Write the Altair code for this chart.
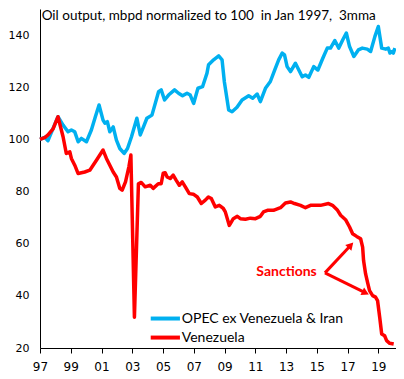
import altair as alt
import pandas as pd

# ---- data ----
opec_year = [1997.00, 1997.31, 1997.52, 1997.85, 1998.17, 1998.50, 1998.82, 1999.04, 1999.26, 1999.48,
             1999.69, 2000.02, 2000.34, 2000.60, 2000.84, 2001.10, 2001.22, 2001.38, 2001.54, 2001.76,
             2001.97, 2002.19, 2002.47, 2002.69, 2002.95, 2003.30, 2003.52, 2003.73, 2003.95, 2004.28,
             2004.71, 2004.88, 2005.10, 2005.36, 2005.75, 2006.01, 2006.27, 2006.56, 2006.77, 2006.99,
             2007.27, 2007.57, 2007.86, 2007.96, 2008.29, 2008.62, 2008.84, 2008.99, 2009.27, 2009.49,
             2009.81, 2010.14, 2010.57, 2010.83, 2011.12, 2011.33, 2011.66, 2011.98, 2012.26, 2012.52,
             2012.75, 2012.90, 2013.07, 2013.29, 2013.61, 2013.83, 2014.05, 2014.26, 2014.48, 2014.80,
             2015.07, 2015.39, 2015.68, 2015.89, 2016.17, 2016.43, 2016.69, 2016.92, 2017.13, 2017.41,
             2017.70, 2017.96, 2018.28, 2018.50, 2018.78, 2019.00, 2019.22, 2019.48, 2019.65, 2019.76,
             2019.91, 2019.98, 2020.08]
opec_val = [100, 100.8, 99.5, 104.2, 108.7, 105.5, 102.9, 103.6, 102.9, 99.1,
            100.4, 99.1, 103.6, 108.7, 113.2, 107.4, 106.2, 106.8, 102.9, 104.8,
            99.7, 96.5, 94.6, 96.5, 101, 108.1, 101.7, 104.8, 108.1, 109.3,
            118.3, 119, 115.1, 117, 119, 117.7, 116.7, 117.7, 117, 113.8,
            119.6, 120.2, 125.4, 128.6, 130.5, 132, 130.5, 122, 111.3, 110.6,
            112.3, 115.1, 116.7, 115.8, 117.4, 114.5, 119.6, 122.2, 126.6, 130.5,
            133.1, 132.4, 127.9, 126, 129.2, 126.6, 124, 124.7, 123.8, 127.9,
            126.6, 131.1, 135, 135, 137.9, 135, 138.2, 140.8, 135.6, 131.8,
            134.3, 135, 134.6, 133.7, 139.5, 143.3, 135, 134.6, 135, 133.1,
            133.7, 133.1, 135]

ven_year = [1997.00, 1997.33, 1997.52, 1997.85, 1998.17, 1998.50, 1998.71, 1998.94, 1999.04, 1999.26,
            1999.48, 1999.91, 2000.24, 2000.67, 2001.10, 2001.32, 2001.54, 2001.76, 2001.97, 2002.19,
            2002.34, 2002.56, 2002.78, 2002.91, 2003.14, 2003.40, 2003.58, 2003.84, 2004.17, 2004.36,
            2004.69, 2004.88, 2005.01, 2005.14, 2005.27, 2005.47, 2005.66, 2005.86, 2006.06, 2006.25,
            2006.45, 2006.71, 2006.97, 2007.23, 2007.49, 2007.75, 2007.95, 2008.14, 2008.40, 2008.66,
            2008.92, 2009.05, 2009.31, 2009.38, 2009.57, 2009.83, 2010.03, 2010.36, 2010.68, 2011.01,
            2011.33, 2011.53, 2011.79, 2012.18, 2012.64, 2012.96, 2013.29, 2013.55, 2013.94, 2014.26,
            2014.59, 2015.24, 2015.76, 2016.02, 2016.35, 2016.55, 2016.87, 2017.13, 2017.33, 2017.59,
            2017.85, 2017.98, 2018.04, 2018.17, 2018.30, 2018.43, 2018.63, 2018.82, 2018.95, 2019.09,
            2019.22, 2019.41, 2019.54, 2019.74, 2020.00]
ven_val = [100, 100.8, 101.7, 104, 108.7, 101, 94.6, 95.2, 92.7, 90.1,
           86.9, 87.5, 88.2, 92, 95.9, 92.7, 90.1, 87.5, 85.6, 81.2,
           80.5, 83.7, 89.5, 94, 31.8, 83, 83.5, 81.8, 82.4, 81.2,
           83, 83, 87, 87.2, 85.6, 85, 86.3, 84.3, 82.4, 83.7,
           81.8, 79.2, 79, 77.9, 75.4, 76.7, 77.9, 77.3, 74.1, 74.7,
           73.5, 72.2, 67, 67.7, 69.6, 70.5, 69.6, 69.4, 69.8, 69.6,
           70.5, 72.2, 72.8, 72.8, 73.8, 75.6, 76, 75.4, 74.7, 73.8,
           74.7, 74.7, 75.4, 74.7, 72.8, 70.9, 69.2, 66.4, 63.8, 62.8,
           61.9, 58.7, 53.6, 48.5, 45.2, 42, 40.1, 39.5, 38.2, 31.8,
           25.4, 24.7, 22.8, 21.8, 21.5]

series_names = ["OPEC ex Venezuela & Iran", "Venezuela"]
series_colors = ["#00B0F0", "#FF0000"]

x_ticks = [1997, 1999, 2001, 2003, 2005, 2007, 2009, 2011, 2013, 2015, 2017, 2019]
y_ticks = [20, 40, 60, 80, 100, 120, 140]
x_domain = [1997, 2020.15]
y_domain = [20, 150]

title_text = ["Oil output, mbpd normalized to 100\u00a0 in Jan 1997,\u00a0 3mma"]
title_x = [1997.11]
title_y = [145.6]

anno_text = ["Sanctions"]
anno_x = [2013.03]
anno_y = [49.0]
arrow_x = [2015.53, 2015.53]
arrow_y = [48.8, 48.8]
arrow_x2 = [2017.21, 2018.17]
arrow_y2 = [59.4, 41.15]
arrow_angle = [43, 115.5]

leg_x = [2004.2, 2004.2]
leg_x2 = [2006.1, 2006.1]
leg_y = [31.3, 24.0]
leg_label_x = [2006.22, 2006.22]

# ---- tables ----
opec_df = pd.DataFrame({"year": opec_year, "value": opec_val})
ven_df = pd.DataFrame({"year": ven_year, "value": ven_val})
title_df = pd.DataFrame({"x": title_x, "y": title_y, "t": title_text})
anno_df = pd.DataFrame({"x": anno_x, "y": anno_y, "t": anno_text})
arrow_df = pd.DataFrame({"x": arrow_x, "y": arrow_y, "x2": arrow_x2, "y2": arrow_y2, "a": arrow_angle})
leg_df = pd.DataFrame({"x": leg_x, "x2": leg_x2, "y": leg_y, "lx": leg_label_x,
                       "s": series_names, "c": series_colors})

xs = alt.Scale(domain=x_domain, nice=False, zero=False)
ys = alt.Scale(domain=y_domain, nice=False, zero=False)

x_axis = alt.Axis(values=x_ticks, labelExpr="substring(toString(datum.value), 2)", grid=False,
                  domainColor="black", tickColor="black", tickSize=5, labelFont="DejaVu Sans",
                  labelFontSize=12, labelColor="black", labelPadding=8, labelFlush=False,
                  labelOverlap=False, title=None)
y_axis = alt.Axis(values=y_ticks, grid=False, domainColor="black", ticks=False, tickSize=0,
                  labelFont="DejaVu Sans", labelFontSize=11, labelColor="black",
                  labelPadding=11, labelOverlap=False, title=None)


def X(field):
    return alt.X(field, type="quantitative", scale=xs, axis=x_axis)


def Y(field):
    return alt.Y(field, type="quantitative", scale=ys, axis=y_axis)


opec = alt.Chart(opec_df).mark_line(color=series_colors[0], strokeWidth=3.5, strokeJoin="round").encode(
    x=X("year"), y=Y("value"))
ven = alt.Chart(ven_df).mark_line(color=series_colors[1], strokeWidth=3.5, strokeJoin="round").encode(
    x=X("year"), y=Y("value"))

title = alt.Chart(title_df).mark_text(align="left", baseline="alphabetic", font="Lato",
                                      fontSize=13.5, color="black").encode(
    x=X("x"), y=Y("y"), text="t:N")

anno = alt.Chart(anno_df).mark_text(align="center", baseline="middle", font="Lato",
                                    fontSize=14, fontWeight="bold", color="#FF0000").encode(
    x=X("x"), y=Y("y"), text="t:N")

arrows = alt.Chart(arrow_df).mark_rule(color="#FF0000", strokeWidth=3).encode(
    x=X("x"), y=Y("y"), x2="x2:Q", y2="y2:Q")
heads = alt.Chart(arrow_df).mark_point(shape="triangle-up", filled=True, color="#FF0000",
                                       size=70, opacity=1).encode(
    x=X("x2"), y=Y("y2"), angle=alt.Angle("a:Q", scale=None))

leg_lines = alt.Chart(leg_df).mark_rule(strokeWidth=4).encode(
    x=X("x"), x2="x2:Q", y=Y("y"), color=alt.Color("c:N", scale=None))
leg_text = alt.Chart(leg_df).mark_text(align="left", baseline="middle", font="Lato",
                                       fontSize=14, color="black").encode(
    x=X("lx"), y=Y("y"), text="s:N")

chart = alt.layer(opec, ven, arrows, heads, anno, title, leg_lines, leg_text).properties(
    width=356, height=339,
    padding={"left": 32, "top": 1, "right": 0, "bottom": 30},
    autosize=alt.AutoSizeParams(type="none"),
).configure_view(stroke=None)

chart.save("out.html", embed_options={"renderer": "svg", "actions": False})
